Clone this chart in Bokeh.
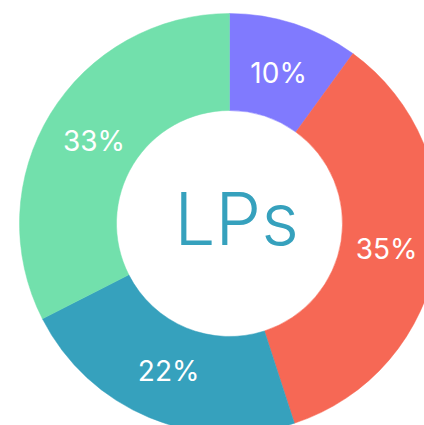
import math
from bokeh.plotting import figure
from bokeh.models import ColumnDataSource, Range1d
from bokeh.core.properties import value
from bokeh.embed import file_html
from bokeh.resources import INLINE

categories = ["A", "B", "C", "D"]
shares = [10, 35, 22.5, 32.5]
labels = ["10%", "35%", "22%", "33%"]
colors = ["#807AFE", "#F66855", "#36A1BD", "#72E0AC"]
center_title = "LPs"

# angles: start at 12 o'clock, go clockwise
total = sum(shares)
starts, ends, mids = [], [], []
a = math.pi / 2
for s in shares:
    sweep = 2 * math.pi * s / total
    starts.append(a - sweep)
    ends.append(a)
    mids.append(a - sweep / 2)
    a -= sweep

R_IN, R_OUT = 113, 210
R_LAB = 159
src = ColumnDataSource(dict(
    start=starts, end=ends, color=colors, label=labels,
    lx=[R_LAB * math.cos(m) for m in mids],
    ly=[R_LAB * math.sin(m) for m in mids],
))

p = figure(width=424, height=425, output_backend="svg", toolbar_location=None,
           x_range=Range1d(-229, 195), y_range=Range1d(-202, 223),
           min_border=0, outline_line_color=None)
p.axis.visible = False
p.grid.visible = False
p.background_fill_color = "white"

p.annular_wedge(x=0, y=0, inner_radius=R_IN, outer_radius=R_OUT,
                start_angle="start", end_angle="end", color="color",
                line_color="color", line_width=0.5, source=src)

p.text(x="lx", y="ly", text="label", source=src, text_color="white",
       text_font=value("Inter"), text_font_size="28px",
       text_align="center", text_baseline="middle", y_offset=1)

p.text(x=[7], y=[5], text=[center_title], text_color="#36A1BD",
       text_font=value("Inter Light"), text_font_size="73px",
       text_align="center", text_baseline="middle")

open("out.html", "w").write(file_html(p, INLINE))
